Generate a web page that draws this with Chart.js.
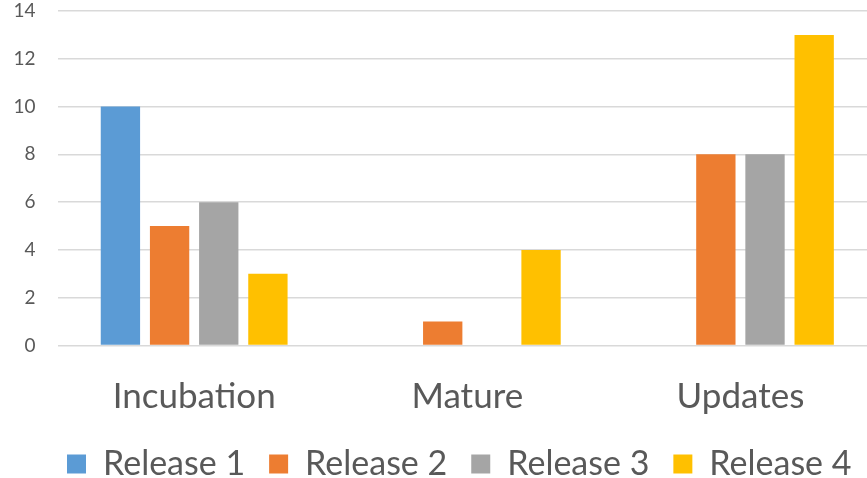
<!DOCTYPE html>
<html>
<head>
<meta charset="utf-8">
<script src="https://cdn.jsdelivr.net/npm/chart.js@4/dist/chart.umd.min.js"></script>
<style>
  html, body { margin: 0; padding: 0; background: #fff; overflow: hidden; }
  #wrap { position: relative; width: 877px; height: 478px; }
</style>
</head>
<body>
<div id="wrap"><canvas id="c"></canvas></div>
<script>
// Categories and series
const categories = ['Incubation', 'Mature', 'Updates'];
const release1 = [10, 0, 0];
const release2 = [5, 1, 8];
const release3 = [6, 0, 8];
const release4 = [3, 4, 13];
const seriesNames = ['Release 1', 'Release 2', 'Release 3', 'Release 4'];
const yTicks = [0, 2, 4, 6, 8, 10, 12, 14];

const colors = ['#5B9BD5', '#ED7D31', '#A5A5A5', '#FFC000'];
const values = [release1, release2, release3, release4];

const FONT = 'Lato, "Open Sans", sans-serif';
const TEXT = '#595959';

// Moves the bottom legend row to the right so it starts under the plot.
const legendShift = {
  id: 'legendShift',
  afterLayout(chart) {
    const lg = chart.legend;
    if (lg) { lg.left += 43; lg.right += 43; }
  }
};

new Chart(document.getElementById('c'), {
  type: 'bar',
  data: {
    labels: categories,
    datasets: seriesNames.map((name, i) => ({
      label: name,
      data: values[i],
      backgroundColor: colors[i],
      borderWidth: 0,
      categoryPercentage: 0.72,
      barPercentage: 0.8
    }))
  },
  plugins: [legendShift],
  options: {
    responsive: true,
    maintainAspectRatio: false,
    animation: false,
    layout: { padding: { top: 11, bottom: -13, left: 0, right: 0 } },
    plugins: {
      tooltip: { enabled: false },
      legend: {
        position: 'bottom',
        align: 'start',
        labels: {
          color: TEXT,
          font: { family: FONT, size: 34 },
          boxWidth: 19,
          boxHeight: 19,
          padding: 24
        }
      }
    },
    scales: {
      x: {
        afterFit: (axis) => { axis.height = 77.5; },
        grid: { display: false, drawTicks: false },
        border: { display: false },
        ticks: { color: TEXT, font: { family: FONT, size: 35 }, padding: 30.5, maxRotation: 0 }
      },
      y: {
        min: 0,
        max: 14,
        afterBuildTicks: (axis) => { axis.ticks = yTicks.map(v => ({ value: v })); },
        afterFit: (axis) => {
          axis.width = 57.6;
          axis.paddingTop = 0;
          axis.paddingBottom = 0;
        },
        grid: { color: '#D9D9D9', lineWidth: 1.4, drawTicks: false },
        border: { display: false },
        ticks: { color: TEXT, font: { family: FONT, size: 19 }, padding: 22 }
      }
    }
  }
});
</script>
</body>
</html>
